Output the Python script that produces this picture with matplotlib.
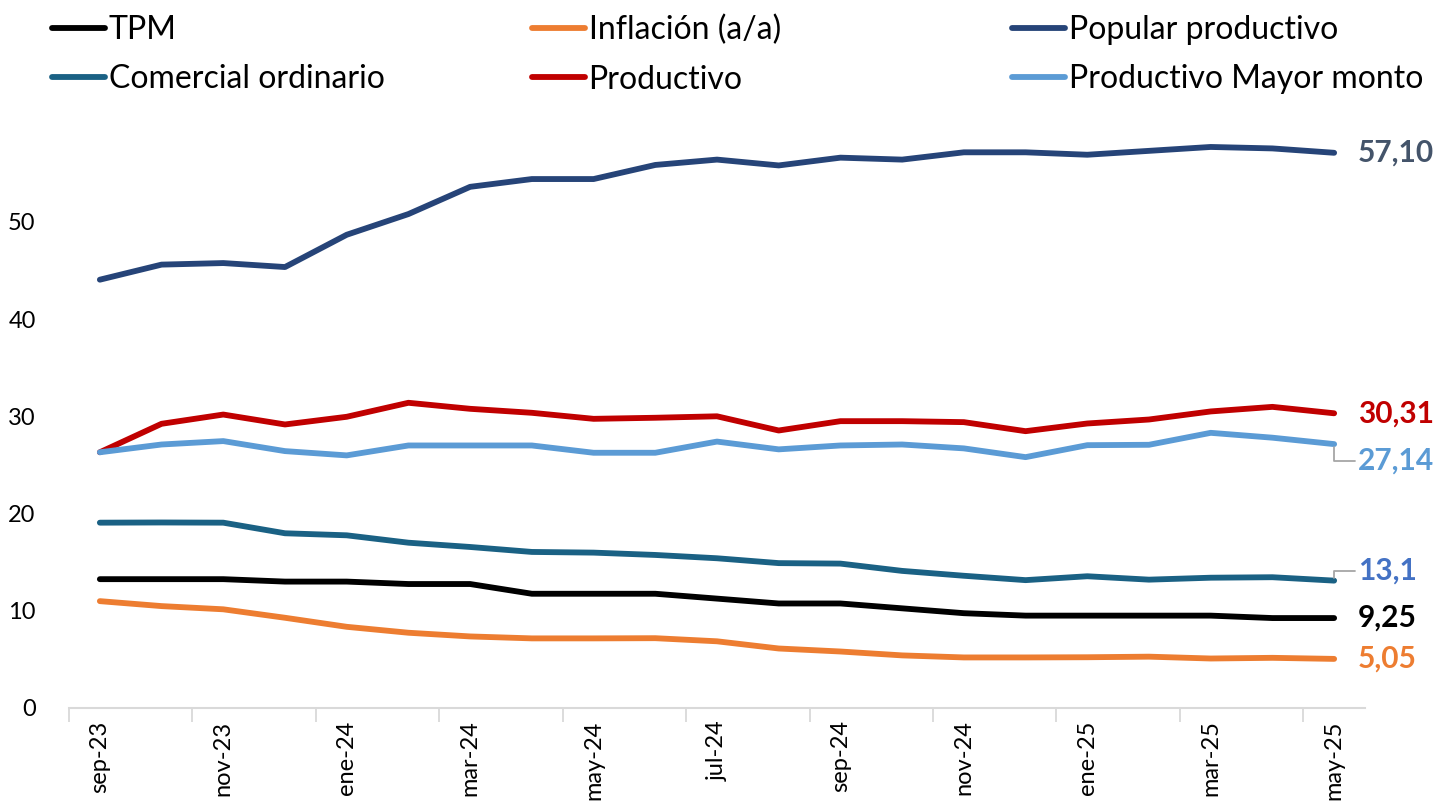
import matplotlib
matplotlib.use("Agg")
import matplotlib.pyplot as plt

plt.rcParams['font.family'] = ['Lato', 'DejaVu Sans']

months = ["sep-23", "oct-23", "nov-23", "dic-23", "ene-24", "feb-24", "mar-24",
          "abr-24", "may-24", "jun-24", "jul-24", "ago-24", "sep-24", "oct-24",
          "nov-24", "dic-24", "ene-25", "feb-25", "mar-25", "abr-25", "may-25"]

tpm = [13.25, 13.25, 13.25, 13.0, 13.0, 12.75, 12.75, 11.75, 11.75, 11.75, 11.25,
       10.75, 10.75, 10.25, 9.75, 9.5, 9.5, 9.5, 9.5, 9.25, 9.25]
inflacion = [10.99, 10.48, 10.15, 9.28, 8.35, 7.74, 7.36, 7.16, 7.16, 7.18, 6.86,
             6.12, 5.81, 5.41, 5.20, 5.20, 5.22, 5.28, 5.09, 5.16, 5.05]
popular = [44.05, 45.6, 45.76, 45.35, 48.67, 50.8, 53.6, 54.4, 54.4, 55.85, 56.4,
           55.8, 56.6, 56.4, 57.15, 57.15, 56.9, 57.3, 57.7, 57.55, 57.10]
comercial = [19.06, 19.08, 19.06, 17.97, 17.76, 17.0, 16.56, 16.05, 15.98, 15.74, 15.4,
             14.9, 14.85, 14.1, 13.6, 13.15, 13.55, 13.2, 13.4, 13.45, 13.1]
productivo = [26.3, 29.23, 30.18, 29.16, 29.95, 31.39, 30.77, 30.36, 29.74, 29.85, 30.0,
              28.54, 29.5, 29.5, 29.4, 28.47, 29.26, 29.67, 30.5, 30.97, 30.31]
mayor_monto = [26.3, 27.1, 27.45, 26.42, 25.98, 27.0, 27.0, 27.0, 26.25, 26.25, 27.4,
               26.6, 27.0, 27.1, 26.7, 25.8, 27.03, 27.07, 28.3, 27.8, 27.14]

series_names = ["TPM", "Inflación (a/a)", "Popular productivo",
                "Comercial ordinario", "Productivo", "Productivo Mayor monto"]
series_values = [tpm, inflacion, popular, comercial, productivo, mayor_monto]
series_colors = ["#000000", "#ed7d31", "#264478", "#1a6184", "#c00000", "#5b9bd5"]
end_labels = ["9,25", "5,05", "57,10", "13,1", "30,31", "27,14"]
end_label_colors = ["#000000", "#ed7d31", "#44546a", "#4472c4", "#c00000", "#5b9bd5"]
end_label_offsets = [0, 0, 0, 7, 0, -12]  # points, vertical

yticks = [0, 10, 20, 30, 40, 50]

fig = plt.figure(figsize=(14.4, 8.08), dpi=100)
ax = fig.add_axes([69/1440, 1 - 708/808, (1365 - 69)/1440, (708 - 124.6)/808])

x = list(range(len(months)))
handles = []
for name, vals, col in zip(series_names, series_values, series_colors):
    h, = ax.plot(x, vals, color=col, lw=4.2, solid_capstyle='round',
                 solid_joinstyle='round', label=name)
    handles.append(h)

for vals, lab, col, off in zip(series_values, end_labels, end_label_colors, end_label_offsets):
    arrow = None
    if off != 0:
        arrow = dict(arrowstyle='-', color='#a6a6a6', lw=1.3,
                     shrinkA=0, shrinkB=2,
                     connectionstyle='angle,angleA=0,angleB=90,rad=0')
    ax.annotate(lab, xy=(x[-1], vals[-1]), xytext=(17, off), textcoords='offset points',
                ha='left', va='center', fontsize=21.5, fontweight='bold', color=col,
                arrowprops=arrow, annotation_clip=False)

ax.set_xlim(-0.5, len(months) - 0.5)
ax.set_ylim(0, 60)
ax.set_yticks(yticks)
ax.set_yticklabels([str(v) for v in yticks])
ax.tick_params(axis='y', length=0, pad=24, labelsize=17, labelcolor='#000000')

ax.set_xticks(x[::2])
ax.set_xticklabels(months[::2], rotation=90, fontsize=17)
ax.tick_params(axis='x', which='major', length=0, pad=9)
ax.set_xticks([i - 0.5 for i in range(0, len(months), 2)], minor=True)
ax.tick_params(axis='x', which='minor', length=10, width=1.3, color='#d9d9d9')

for s in ['top', 'right', 'left']:
    ax.spines[s].set_visible(False)
ax.spines['bottom'].set_color('#d9d9d9')
ax.spines['bottom'].set_linewidth(1.5)

# legend: three columns placed separately
groups = [[0, 3], [1, 4], [2, 5]]
col_x = [52, 532, 1012]
for g, cx in zip(groups, col_x):
    fig.legend([handles[i] for i in g], [series_names[i] for i in g],
               loc='upper left', bbox_to_anchor=(cx/1440, 1 - 15/808),
               frameon=False, fontsize=23, handlelength=1.65,
               handletextpad=0.12, labelspacing=0.6, borderpad=0,
               borderaxespad=0)

fig.savefig("out.png", dpi=100)
